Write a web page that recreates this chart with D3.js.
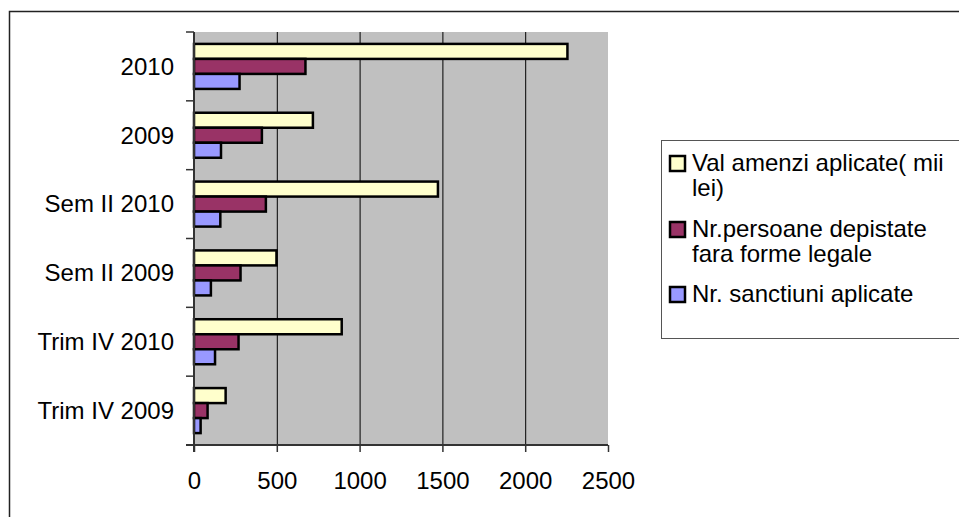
<!DOCTYPE html>
<html><head><meta charset="utf-8">
<script src="https://cdn.jsdelivr.net/npm/d3@7"></script>
<style>body{margin:0;background:#fff}svg{display:block}</style>
</head><body>
<script>
const categories = ["2010","2009","Sem II 2010","Sem II 2009","Trim IV 2010","Trim IV 2009"];
const seriesNames = ["Val amenzi aplicate( mii lei)","Nr.persoane depistate fara forme legale","Nr. sanctiuni aplicate"];
const valAmenzi = [2255, 718, 1473, 498, 892, 191];
const nrPersoane = [673, 410, 434, 281, 269, 82];
const nrSanctiuni = [275, 163, 159, 102, 127, 40];
const xTicks = [0, 500, 1000, 1500, 2000, 2500];
const colors = ["#FFFFCC", "#993366", "#9999FF"];

const W = 959, H = 517;
const svg = d3.select("body").append("svg").attr("width", W).attr("height", H);
const font = "'Liberation Sans', Arial, sans-serif";
const FS = 24;

// outer frame
svg.append("rect").attr("x", 9.5).attr("y", 11.5).attr("width", 1000).attr("height", 600)
  .attr("fill", "#fff").attr("stroke", "#222").attr("stroke-width", 1.5);

const L = 194, R = 608, T = 32, B = 445;
const x = d3.scaleLinear().domain([0, 2500]).range([L, R]);
const y = d3.scaleBand().domain(categories).range([T, B]).paddingInner(0.346).paddingOuter(0.173);
const ySub = d3.scaleBand().domain([0,1,2]).range([0, y.bandwidth()]);

svg.append("rect").attr("x", L).attr("y", T).attr("width", R - L).attr("height", B - T).attr("fill", "#C0C0C0");

// gridlines
svg.append("g").selectAll("line").data(xTicks.slice(1, -1)).join("line")
  .attr("x1", d => x(d) + 0.5).attr("x2", d => x(d) + 0.5).attr("y1", T).attr("y2", B)
  .attr("stroke", "#000").attr("stroke-width", 1);

const series = [valAmenzi, nrPersoane, nrSanctiuni];
series.forEach((vals, si) => {
  svg.append("g").selectAll("rect").data(categories).join("rect")
    .attr("x", x(0))
    .attr("y", (c) => y(c) + ySub(si))
    .attr("width", (c, i) => x(vals[i]) - x(0))
    .attr("height", ySub.bandwidth())
    .attr("fill", colors[si]).attr("stroke", "#000").attr("stroke-width", 2.5);
});

// x axis
const xAxis = d3.axisBottom(x).tickValues(xTicks).tickFormat(d3.format("d")).tickSize(7).tickPadding(20).tickSizeOuter(0);
const gx = svg.append("g").attr("transform", `translate(0,${B})`).call(xAxis);
gx.select(".domain").attr("stroke", "#333").attr("stroke-width", 2).attr("d", `M${L-8},0H${R}`);
gx.selectAll(".tick line").attr("stroke", "#333").attr("stroke-width", 1.5);
gx.selectAll("text").attr("font-family", font).attr("font-size", FS).attr("fill", "#000");

// y axis
const gy = svg.append("g").attr("transform", `translate(${L},0)`);
gy.append("line").attr("x1", 0).attr("x2", 0).attr("y1", T).attr("y2", B + 7).attr("stroke", "#333").attr("stroke-width", 2);
const bounds = categories.map(c => y(c) - y.step() * 0.173).concat([B]);
gy.selectAll("line.tk").data(bounds).join("line").attr("class", "tk")
  .attr("x1", -8).attr("x2", 0).attr("y1", d => d).attr("y2", d => d)
  .attr("stroke", "#333").attr("stroke-width", 1.5);
gy.selectAll("text").data(categories).join("text")
  .attr("x", -20).attr("y", c => y(c) + y.bandwidth() / 2).attr("dy", "0.35em")
  .attr("text-anchor", "end").attr("font-family", font).attr("font-size", FS).text(c => c);

// legend
const lg = svg.append("g");
lg.append("rect").attr("x", 661.5).attr("y", 140.5).attr("width", 400).attr("height", 198)
  .attr("fill", "#fff").attr("stroke", "#555").attr("stroke-width", 1);
const legendLines = [["Val amenzi aplicate( mii", "lei)"], ["Nr.persoane depistate", "fara forme legale"], ["Nr. sanctiuni aplicate"]];
const legendY = [163, 229, 294];
legendLines.forEach((lines, i) => {
  lg.append("rect").attr("x", 670).attr("y", legendY[i] - 7).attr("width", 15).attr("height", 15)
    .attr("fill", colors[i]).attr("stroke", "#000").attr("stroke-width", 2.5);
  lines.forEach((t, j) => {
    lg.append("text").attr("x", 692).attr("y", legendY[i] + j * 25).attr("dy", "0.35em")
      .attr("font-family", font).attr("font-size", FS).text(t);
  });
});
</script>
</body></html>
